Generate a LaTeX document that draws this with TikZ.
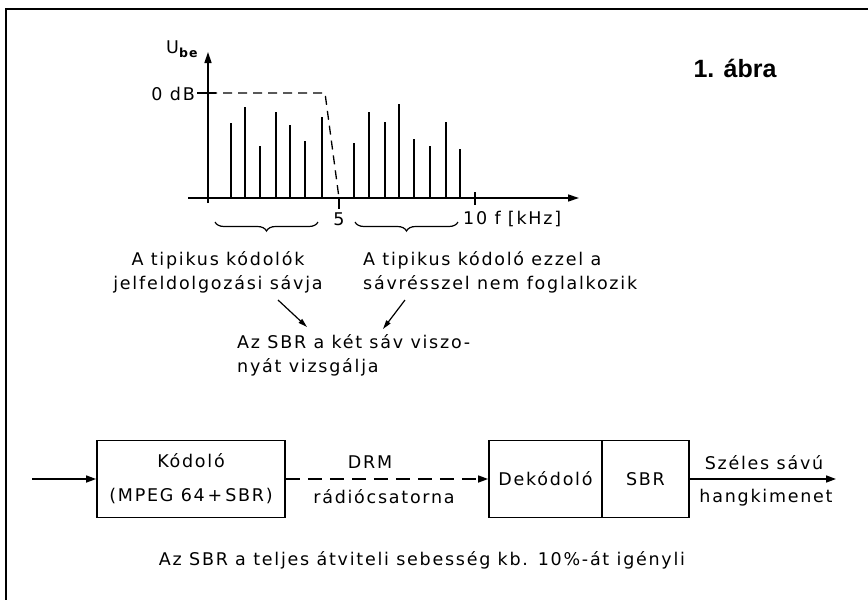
\documentclass[tikz,border=0pt]{standalone}
\usepackage{fontspec}
\setmainfont{DejaVu Sans}[LetterSpace=10]
\newfontfamily\titlefont{Liberation Sans}
\usetikzlibrary{arrows.meta,decorations.pathreplacing}

\begin{document}
\begin{tikzpicture}[x=1pt,y=-1pt,
  lbl/.style={inner sep=0pt, font=\fontsize{17.5}{21}\selectfont},
  axisline/.style={line width=1.4pt, -{Triangle[length=11pt,width=7pt]}},
  specline/.style={line width=1.9pt},
  envelope/.style={line width=1.3pt, dash pattern=on 9pt off 6pt},
  bracebar/.style={line width=1.2pt, decorate,
    decoration={brace, amplitude=9pt, mirror}},
  blk/.style={draw, line width=1.8pt, minimum height=77pt, inner sep=0pt,
    font=\fontsize{17.5}{21}\selectfont, align=center},
  flow/.style={line width=1.6pt, -{Triangle[length=10pt,width=7pt]}},
  hint/.style={line width=1.2pt, -{Triangle[length=9pt,width=5pt]}},
  frameline/.style={line width=2.4pt}]

\useasboundingbox (0,0) rectangle (868,600);

% frame (top and left edges)
\draw[frameline] (868,9) -- (6,9) -- (6,600);

% title
\node[inner sep=0pt, font=\titlefont\bfseries\fontsize{25}{30}\selectfont]
  (title) at (735,68) {1. ábra};

% ---------- spectrum ----------
\draw[axisline] (188,198) -- (579,198);
\draw[axisline] (208,203) -- (208,52);
\node[lbl, anchor=base west] (ube) at (166,53)
  {U\raisebox{-4pt}{\fontsize{12.5}{14}\selectfont\bfseries be}};
\node[lbl, anchor=east] (zerodb) at (195,94) {0 dB};
\draw[line width=1.3pt] (197,93) -- (216,93);

% spectral lines below 5 kHz
\foreach \x/\h in {231/123, 245/107, 260/146, 276/112, 290/125, 305/141, 322/117}
  \draw[specline] (\x,198) -- (\x,\h);
% spectral lines above 5 kHz
\foreach \x/\h in {354/143, 369/112, 385/122, 399/104, 414/139, 430/146, 446/122, 460/149}
  \draw[specline] (\x,198) -- (\x,\h);

% coder pass band
\draw[envelope] (208,93) -- (325,93) -- (339,198);

% ticks
\draw[line width=1.3pt] (339,198) -- (339,209);
\draw[line width=1.3pt] (475,192) -- (475,205);
\node[lbl] (five) at (339,219) {5};
\node[lbl, anchor=west] (tenk) at (463,219) {10 f [kHz]};

% braces under the two bands
\draw[bracebar] (215,222) -- (318,222);
\draw[bracebar] (355,222) -- (458,222);

% band descriptions
\node[lbl, anchor=base] (low1) at (218,265) {A tipikus kódolók};
\node[lbl, anchor=base] (low2) at (218,289) {jelfeldolgozási sávja};
\node[lbl, anchor=base west] (high1) at (363,265) {A tipikus kódoló ezzel a};
\node[lbl, anchor=base west] (high2) at (363,289) {sávrésszel nem foglalkozik};

\node[lbl, anchor=base west] (sbr1) at (237,348) {Az SBR a két sáv viszo-};
\node[lbl, anchor=base west] (sbr2) at (237,372) {nyát vizsgálja};

\coordinate (lowtail) at (278,300);
\coordinate (lowhead) at (307,327);
\coordinate (hightail) at (405,300);
\coordinate (highhead) at (383,329);
\draw[hint] (lowtail) -- (lowhead);
\draw[hint] (hightail) -- (highhead);

% ---------- transmission chain ----------
\node[blk, minimum width=188pt] (enc) at (191,479)
  {Kódoló\\[13pt](MPEG 64\,+\,SBR)};
\node[blk, minimum width=113pt] (dec) at (545.5,479) {Dekódoló};
\node[blk, minimum width=87pt] (sbr) at (645.5,479) {SBR};

\coordinate (src) at (32,479);
\coordinate (sink) at (836,479);
\draw[flow] (src) -- (enc);
\draw[flow, dash pattern=on 14pt off 8pt] (enc) -- (dec);
\draw[flow] (sbr) -- (sink);

\node[lbl] (drm) at (370,462) {DRM};
\node[lbl] (chan) at (384,497) {rádiócsatorna};
\node[lbl] (wide1) at (764,463) {Széles sávú};
\node[lbl] (wide2) at (766,498) {hangkimenet};

\node[lbl] (note) at (422,560)
  {Az SBR a teljes átviteli sebesség kb. 10\%-át igényli};
\end{tikzpicture}
\end{document}
